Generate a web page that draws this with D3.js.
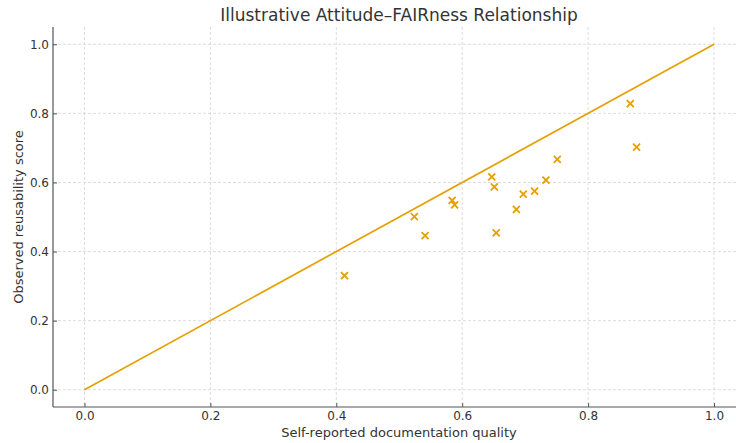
<!DOCTYPE html>
<html><head><meta charset="utf-8">
<script src="https://cdn.jsdelivr.net/npm/d3@7"></script>
<style>body{margin:0;background:#fff}svg{display:block;font-family:"DejaVu Sans",sans-serif}</style>
</head><body><svg id="c" width="736" height="443"></svg>
<script>
const xVals = [0.413,0.524,0.541,0.584,0.588,0.647,0.651,0.654,0.686,0.697,0.715,0.733,0.751,0.867,0.877];
const yVals = [0.330,0.501,0.446,0.548,0.535,0.616,0.587,0.454,0.522,0.566,0.575,0.607,0.667,0.828,0.702];
const lineX = [0,1];
const lineY = [0,1];
const xTicks = [0,0.2,0.4,0.6,0.8,1.0];
const yTicks = [0,0.2,0.4,0.6,0.8,1.0];
const title = "Illustrative Attitude–FAIRness Relationship";
const xLabel = "Self-reported documentation quality";
const yLabel = "Observed reusability score";
const color = "#E69F00";

const svg = d3.select("#c");
const L=53, T=27, B=407, R=745.5;
const x = d3.scaleLinear().domain([-0.05,1.05]).range([L,R]);
const y = d3.scaleLinear().domain([-0.05,1.05]).range([B,T]);
const g = svg.append("g");
// grid
g.selectAll(".gx").data(xTicks).join("line").attr("x1",d=>x(d)).attr("x2",d=>x(d)).attr("y1",T).attr("y2",B)
 .attr("stroke","#d4d4d4").attr("stroke-width",0.8).attr("stroke-dasharray","3,2");
g.selectAll(".gy").data(yTicks).join("line").attr("y1",d=>y(d)).attr("y2",d=>y(d)).attr("x1",L).attr("x2",736)
 .attr("stroke","#d4d4d4").attr("stroke-width",0.8).attr("stroke-dasharray","3,2");
// line
g.append("path").datum(lineX.map((v,i)=>[v,lineY[i]])).attr("d",d3.line().x(d=>x(d[0])).y(d=>y(d[1])))
 .attr("fill","none").attr("stroke",color).attr("stroke-width",1.7);
// points
const s=3.5;
g.selectAll(".p").data(xVals.map((v,i)=>[v,yVals[i]])).join("path")
 .attr("d",d=>{const cx=x(d[0]),cy=y(d[1]);return `M${cx-s},${cy-s}L${cx+s},${cy+s}M${cx-s},${cy+s}L${cx+s},${cy-s}`;})
 .attr("stroke",color).attr("stroke-width",1.8).attr("fill","none");
// axes
const xa = svg.append("g").attr("transform",`translate(0,${B})`).call(d3.axisBottom(x).tickValues(xTicks).tickFormat(d3.format(".1f")).tickSize(-4).tickPadding(4.5));
const ya = svg.append("g").attr("transform",`translate(${L},0)`).call(d3.axisLeft(y).tickValues(yTicks).tickFormat(d3.format(".1f")).tickSize(-4).tickPadding(4));
[xa,ya].forEach(a=>{a.select(".domain").remove();a.selectAll("line").attr("stroke","#555");a.selectAll("text").attr("fill","#333").style("font-size","12px").style("font-family","DejaVu Sans");});
svg.append("line").attr("x1",L).attr("x2",L).attr("y1",T).attr("y2",B).attr("stroke","#555").attr("stroke-width",1.2);
svg.append("line").attr("x1",L).attr("x2",736).attr("y1",B).attr("y2",B).attr("stroke","#555").attr("stroke-width",1.2);
svg.append("text").attr("x",399).attr("y",21).attr("text-anchor","middle").attr("fill","#333").style("font-size","17px").text(title);
svg.append("text").attr("x",399).attr("y",437).attr("text-anchor","middle").attr("fill","#333").style("font-size","13px").text(xLabel);
svg.append("text").attr("transform","translate(23,217) rotate(-90)").attr("text-anchor","middle").attr("fill","#333").style("font-size","13px").text(yLabel);
</script></body></html>
